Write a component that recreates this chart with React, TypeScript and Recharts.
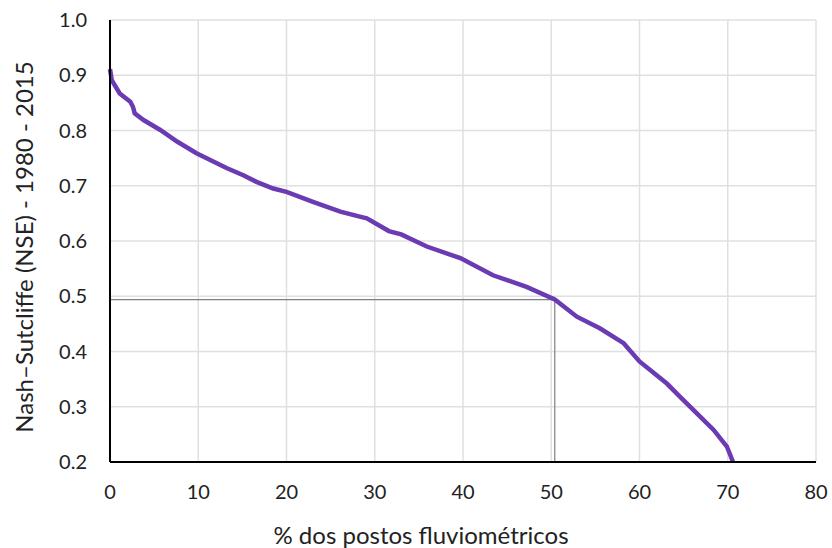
import {
  LineChart, Line, XAxis, YAxis, CartesianGrid, ReferenceLine, Label,
} from "recharts";

const PURPLE = "#6a3bb2";
const FONT = "Lato, 'Open Sans', sans-serif";

// % of gauging stations (x) vs NSE (y)
const pct = [0, 0.2, 1.1, 2.3, 2.6, 2.8, 3.8, 5.7, 7.6, 9.8, 11.3, 13.2, 15.1, 16.6, 18.5, 20, 23, 26.1, 28.3, 29.1, 31.6, 33, 35.9, 39.7, 43.4, 47.2, 50.4, 52.9, 55.5, 58.2, 60, 63.1, 64.6, 66.5, 68.4, 69.9, 70.6];
const nse = [0.911, 0.891, 0.867, 0.852, 0.843, 0.831, 0.819, 0.801, 0.78, 0.759, 0.747, 0.732, 0.719, 0.707, 0.695, 0.689, 0.671, 0.653, 0.644, 0.641, 0.618, 0.612, 0.59, 0.569, 0.538, 0.517, 0.494, 0.463, 0.442, 0.415, 0.382, 0.342, 0.318, 0.288, 0.258, 0.228, 0.2];
const xTicks = [0, 10, 20, 30, 40, 50, 60, 70, 80];
const yTicks = [0.2, 0.3, 0.4, 0.5, 0.6, 0.7, 0.8, 0.9, 1.0];
// median marker: half of the stations reach this NSE
const median = { x: 50.4, y: 0.494 };

const data = pct.map((p, i) => ({ p, v: nse[i] }));

const yTitle = () => (
  <text x={23} y={247} transform="rotate(-90 23 247)" textAnchor="middle"
    dominantBaseline="central" fill="#222" fontSize={24} fontFamily={FONT}>
    Nash–Sutcliffe (NSE) - 1980 - 2015
  </text>
);

const xTitle = () => (
  <text x={421} y={534} textAnchor="middle" dominantBaseline="central"
    fill="#222" fontSize={24} fontFamily={FONT}>
    % dos postos fluviométricos
  </text>
);

export default function App() {
  return (
    <div style={{ position: "absolute", left: 0, top: 0, background: "#fff" }}>
      <LineChart width={832} height={548} data={data}
        margin={{ top: 20, right: 16, left: 0, bottom: 0 }}>
        <CartesianGrid stroke="#e0e0e0" strokeWidth={1.5} />
        <XAxis dataKey="p" type="number" domain={[0, 80]} ticks={xTicks} height={86}
          tickLine={false} axisLine={{ stroke: "#000", strokeWidth: 2 }}
          tick={{ fill: "#222", fontSize: 20, fontFamily: FONT }} tickMargin={17}>
          <Label content={xTitle} />
        </XAxis>
        <YAxis type="number" domain={[0.2, 1]} ticks={yTicks} width={110}
          tickFormatter={(v: number) => v.toFixed(1)}
          tickLine={false} axisLine={{ stroke: "#000", strokeWidth: 2 }}
          tick={{ fill: "#222", fontSize: 20, fontFamily: FONT }} tickMargin={17}>
          <Label content={yTitle} />
        </YAxis>
        <ReferenceLine segment={[{ x: 0, y: median.y }, { x: median.x, y: median.y }]} stroke="#7f7f7f" strokeWidth={1.2} />
        <ReferenceLine segment={[{ x: median.x, y: 0.2 }, { x: median.x, y: median.y }]} stroke="#7f7f7f" strokeWidth={1.2} />
        <Line dataKey="v" type="linear" stroke={PURPLE} strokeWidth={4.5} dot={false}
          isAnimationActive={false} />
      </LineChart>
    </div>
  );
}
